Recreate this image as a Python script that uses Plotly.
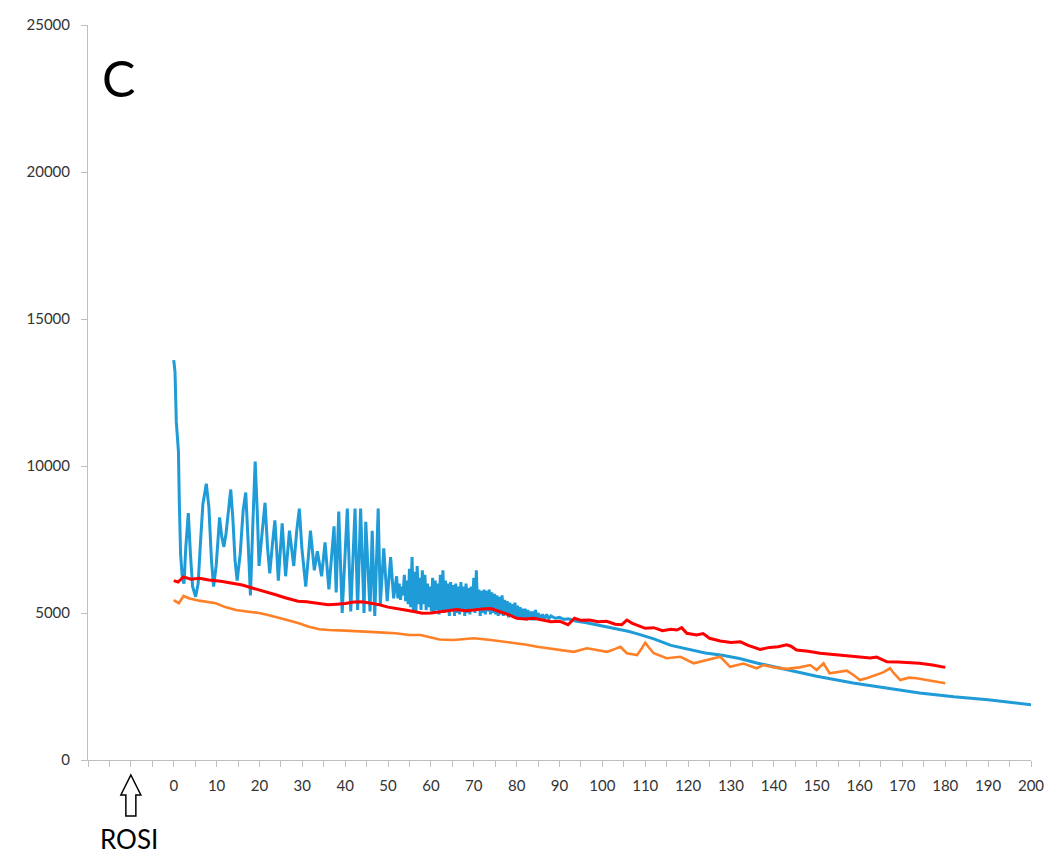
import plotly.graph_objects as go

# ---- data ----
blue_x = [0, 0.3, 0.6, 0.9, 1.1, 1.3, 1.6, 2.0, 2.4, 2.8, 3.4, 3.9, 4.4, 5.1, 5.7, 6.2, 6.8, 7.6, 8.2, 8.8,
          9.3, 9.9, 10.7, 11.2, 11.7, 12.2, 12.8, 13.3, 13.8, 14.3, 14.8, 15.5, 16.2, 16.8, 17.3, 17.9, 18.4,
          19.0, 19.5, 19.9, 20.6, 21.3, 21.9, 22.4, 23.0, 23.6, 24.0, 24.4, 25.3, 26.1, 27.0, 28.0, 28.7,
          29.3, 29.9, 30.8, 31.4, 31.9, 32.8, 33.5, 34.5, 35.3, 36.2, 36.8, 37.4, 37.9, 38.5, 39.3, 39.9,
          40.5, 41.3, 41.8, 42.3, 42.9, 43.6, 44.4, 44.8, 45.8, 46.3, 46.9, 47.7, 48.2, 49.0, 49.8, 50.6,
          51.3,
          52.0, 52.3, 52.6, 52.9, 53.2, 53.5, 53.8, 54.1, 54.4, 54.7, 55.0, 55.3, 55.6, 55.9, 56.2, 56.5,
          56.8, 57.1, 57.4, 57.7, 58.0, 58.3, 58.6, 58.9, 59.2, 59.5, 59.8, 60.1, 60.4, 60.7, 61.0, 61.3,
          61.6, 61.9, 62.2, 62.5, 62.8, 63.1, 63.4, 63.7, 64.0, 64.3, 64.6, 64.9, 65.2, 65.5, 65.8, 66.1,
          66.4, 66.7, 67.0, 67.3, 67.6, 67.9, 68.2, 68.5, 68.8, 69.1, 69.4, 69.7, 70.0, 70.3, 70.6, 70.9,
          71.2, 71.5, 71.8, 72.1, 72.4, 72.7, 73.0, 73.3, 73.6, 73.9, 74.2, 74.5, 74.8, 75.1, 75.4, 75.7,
          76.0, 76.3, 76.6, 76.9, 77.2, 77.5, 77.8, 78.1, 78.4, 78.7, 79.0, 79.3, 79.6, 79.9, 80.2, 80.5,
          80.8, 81.1, 81.4, 81.7, 82.0, 82.3, 82.6, 82.9, 83.2, 83.5, 83.8, 84.1, 84.4, 84.7, 85.0, 85.5,
          86.0, 86.5, 87.0, 87.5, 88, 89, 90, 91, 92, 93, 94, 96, 98, 100, 102, 104, 106, 108, 110,
          112, 116, 120, 124, 128, 132, 136, 140, 143, 150, 158.5, 166, 174, 182, 190, 200]
blue_y = [13600, 13200, 11500, 10700, 10500, 8800, 7000, 6200, 6000, 7200, 8400, 7000, 5900, 5550, 6000, 7300,
          8700, 9400, 8600, 6800, 5900, 6600, 8250, 7600, 7250, 7700, 8600, 9200, 8200, 6800, 6100, 7000,
          8500, 9100, 7600, 5600, 7800, 10150, 8400, 6600, 7700, 8750, 7200, 6350, 7300, 8150, 7200, 6100,
          8050, 6250, 7800, 6600, 7800, 8550, 7200, 5900, 6900, 7800, 6450, 7100, 6250, 7400, 5800, 6900,
          7950, 5700, 8450, 5000, 6800, 8550, 5050, 6900, 8550, 5100, 8550, 5000, 8100, 5050, 7800, 4900,
          8550, 5300, 7200, 5400, 6900, 5500,
          6250, 5500, 6000, 5450, 5900, 5600, 6300, 5400, 6100, 5300, 6500, 5200, 6900, 5100, 6400, 5000,
          6600, 5300, 6200, 5100, 6450, 5300, 6300, 5100, 6000, 5200, 5900, 5050, 6200, 5000, 6100, 5100,
          6000, 4950, 6300, 5100, 6450, 5000, 6100, 5050, 6000, 4900, 6050, 5100, 5950, 4900, 6000, 5000,
          5900, 4950, 6050, 5100, 5900, 4900, 6000, 5000, 5850, 4950, 5900, 5100, 6200, 5000, 6450, 5100,
          5800, 4900, 5750, 5000, 5800, 4950, 5750, 5050, 5800, 4950, 5700, 5000, 5650, 4950, 5600, 4900,
          5550, 4950, 5600, 4900, 5450, 4950, 5400, 4850, 5350, 4900, 5300, 4850, 5350, 4800, 5250, 4850,
          5200, 4800, 5150, 4800, 5150, 4750, 5100, 4800, 5050, 4750, 5050, 4750, 5100, 4800, 5000, 4800,
          4950, 4800, 4950, 4800, 4900, 4820, 4850, 4780, 4800, 4760, 4720, 4680, 4620, 4580, 4520, 4440,
          4380, 4300, 4220, 4120, 3900, 3760, 3640, 3560, 3450, 3300, 3170, 3060, 2850, 2620, 2450, 2280,
          2150, 2050, 1880]

red_x = [0, 1, 2.3, 4, 6, 8.2, 11, 13.7, 16, 18.3, 21, 23.8, 26, 29, 31, 33, 36, 38, 40, 42, 44, 46, 48, 50,
         52, 54, 56, 58, 60, 62, 64, 66, 68, 70, 72, 74, 76, 78, 80, 82, 84, 86, 88, 90, 92, 93.5, 95, 97, 99,
         101, 103, 104.5, 105.7, 107, 110, 112, 114, 116, 117.4, 118.5, 119.7, 122, 123.5, 125, 127.5, 130,
         132.2, 134, 136.8, 139, 141, 143, 144, 145.3, 148, 150.8, 153, 156, 159, 162.5, 164, 166.4, 169,
         172, 174, 177, 180]
red_y = [6100, 6050, 6230, 6150, 6180, 6120, 6080, 6010, 5950, 5850, 5750, 5620, 5520, 5400, 5380, 5350, 5280,
         5300, 5320, 5370, 5380, 5330, 5280, 5200, 5160, 5100, 5050, 4990, 5000, 5050, 5080, 5120, 5080, 5100,
         5140, 5150, 5050, 4950, 4820, 4800, 4820, 4760, 4700, 4720, 4600, 4820, 4750, 4760, 4700, 4720, 4620,
         4600, 4760, 4650, 4480, 4500, 4400, 4450, 4420, 4500, 4310, 4250, 4300, 4140, 4050, 4000, 4020, 3900,
         3760, 3830, 3850, 3920, 3870, 3740, 3700, 3630, 3600, 3580, 3520, 3470, 3500, 3340, 3330, 3300, 3290,
         3230, 3150]

orange_x = [0, 1.2, 2.3, 3.5, 5.9, 8, 9.8, 12, 14.5, 17, 19.9, 22, 23.8, 26, 29.2, 31.5, 34, 36.2, 40, 44, 48,
            51.7, 55, 57.6, 59.5, 62, 65.3, 68, 70, 74, 77, 80, 82, 84.8, 87, 90, 93.3, 96.4, 99, 101.1, 103,
            104.2, 105.7, 108.1, 109.2, 110, 111, 112, 115, 118.2, 121.3, 123, 124.5, 126.7, 127.5, 129.8,
            132.9, 136, 137.6, 140, 143, 146, 148.5, 150, 151.6, 153, 155, 157, 158.5, 160.1, 162, 164, 165.5,
            167.1, 168, 169.5, 171.5, 173.3, 175.6, 177.2, 180]
orange_y = [5440, 5330, 5580, 5500, 5420, 5380, 5330, 5200, 5100, 5050, 5000, 4930, 4870, 4780, 4650, 4530,
            4450, 4420, 4400, 4360, 4340, 4310, 4250, 4250, 4190, 4100, 4080, 4120, 4140, 4080, 4020, 3980,
            3930, 3850, 3800, 3750, 3680, 3800, 3720, 3680, 3780, 3850, 3630, 3570, 3800, 3990, 3800, 3630,
            3460, 3510, 3290, 3350, 3400, 3460, 3510, 3170, 3280, 3120, 3230, 3150, 3100, 3150, 3230, 3060,
            3290, 2950, 3000, 3040, 2900, 2720, 2800, 2890, 2980, 3120, 2950, 2720, 2800, 2780, 2720, 2700,
            2610]

x_tick_vals = list(range(-20, 201, 5))
x_tick_text = [str(v) if (v >= 0 and v % 10 == 0) else "" for v in x_tick_vals]
y_tick_vals = [0, 5000, 10000, 15000, 20000, 25000]
y_tick_text = ["0", "5000", "10000", "15000", "20000", "25000"]

panel_label = "C"
marker_label = "ROSI"
marker_x = -10

# ---- figure ----
fig = go.Figure()
fig.add_trace(go.Scatter(x=blue_x, y=blue_y, mode="lines",
                         line=dict(color="#1f9bd7", width=3), name="blue"))
fig.add_trace(go.Scatter(x=red_x, y=red_y, mode="lines",
                         line=dict(color="#ff0000", width=3), name="red"))
fig.add_trace(go.Scatter(x=orange_x, y=orange_y, mode="lines",
                         line=dict(color="#ff8026", width=2.6), name="orange"))

axis_color = "#bfbfbf"
font_family = "Lato, 'Open Sans', sans-serif"
tick_font = dict(family=font_family, size=15, color="#333333")

fig.update_layout(
    width=1050, height=859,
    margin=dict(l=88, r=19, t=25, b=99, autoexpand=False),
    paper_bgcolor="white", plot_bgcolor="white",
    showlegend=False,
    xaxis=dict(range=[-20, 200], tickmode="array", tickvals=x_tick_vals, ticktext=x_tick_text,
               showline=True, linecolor=axis_color, linewidth=1, ticks="outside", ticklen=6,
               tickcolor=axis_color, showgrid=False, zeroline=False, tickfont=tick_font,
               ticklabelstandoff=6, automargin=False, ticklabeloverflow="allow"),
    yaxis=dict(range=[0, 25000], tickmode="array", tickvals=y_tick_vals, ticktext=y_tick_text,
               showline=True, linecolor=axis_color, linewidth=1, ticks="outside", ticklen=6,
               tickcolor=axis_color, showgrid=False, zeroline=False, tickfont=tick_font,
               ticklabelstandoff=8, automargin=False, ticklabeloverflow="allow"),
    annotations=[
        dict(text=panel_label, xref="paper", yref="paper", x=0.032, y=0.928,
             showarrow=False, xanchor="center", yanchor="middle",
             font=dict(family=font_family, size=50, color="black")),
        dict(text=marker_label, xref="x", yref="paper", x=marker_x - 0.5, y=-0.1075,
             showarrow=False, xanchor="center", yanchor="middle",
             font=dict(family=font_family, size=26, color="black")),
    ],
    shapes=[
        dict(type="path", xref="x", yref="paper", xsizemode="pixel", ysizemode="pixel",
             xanchor=marker_x, yanchor=0,
             path="M 0 -15 L 10 -35 L 5 -35 L 5 -56 L -5 -56 L -5 -35 L -10 -35 Z",
             fillcolor="white", line=dict(color="black", width=1.5)),
    ],
)

fig.write_html("out.html",
               config={"displayModeBar": False},
               post_script="document.body.style.margin='0';document.body.style.overflow='hidden';")
